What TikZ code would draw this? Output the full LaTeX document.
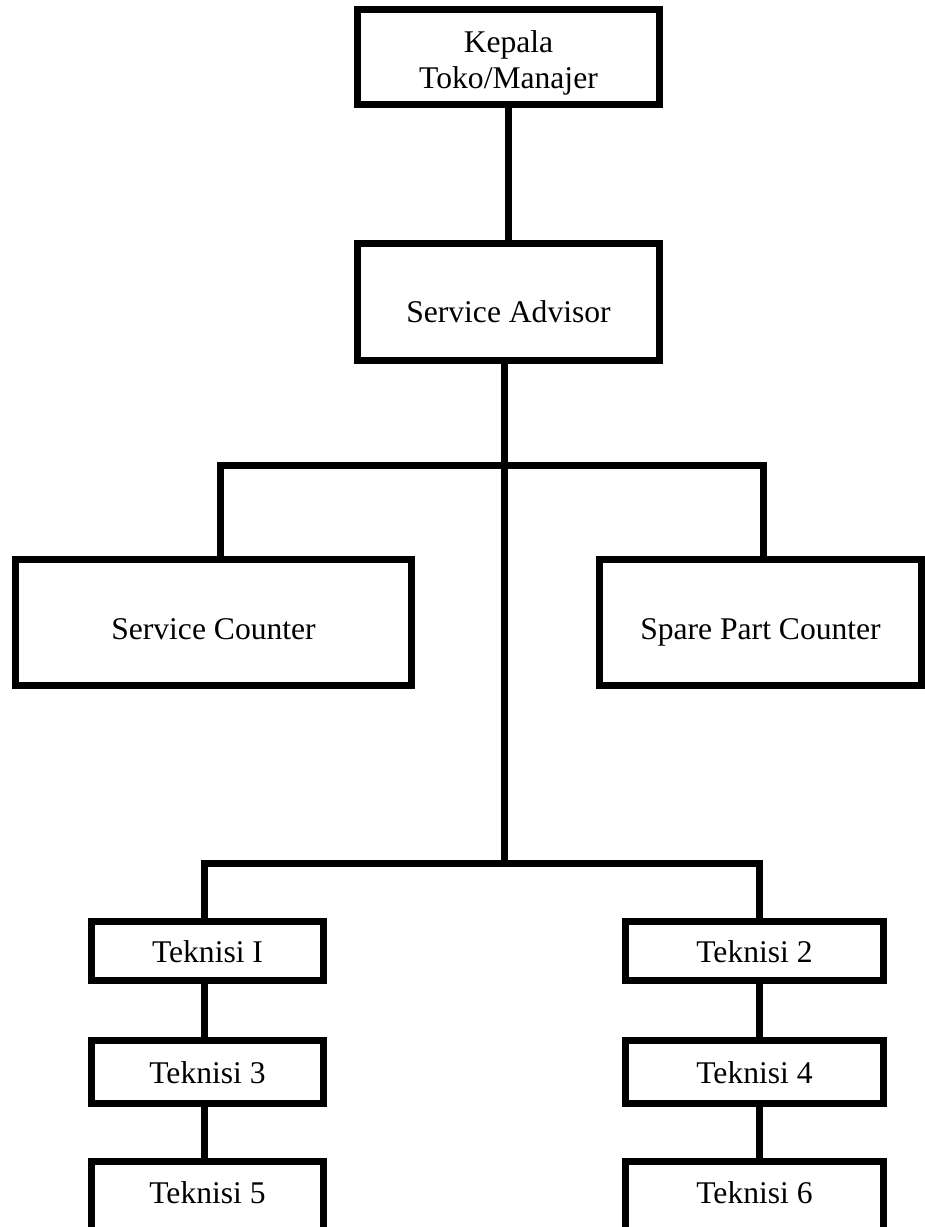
\documentclass[tikz,border=0pt]{standalone}
\usepackage{fontspec}
\setmainfont{Liberation Serif}
\begin{document}
\begin{tikzpicture}[x=1pt, y=-1pt,
  line width=7pt,
  orgbox/.style={draw, rectangle, inner sep=0pt, line width=7pt,
    font=\fontsize{31.6}{36}\selectfont, text depth=0pt},
  lbl/.style={inner sep=0pt, font=\fontsize{31.6}{36}\selectfont},
  wire/.style={draw, line width=7pt}]
\useasboundingbox (0,0) rectangle (925,1227);
\clip (0,0) rectangle (925,1227);

% boxes
\node[orgbox, minimum width=302pt, minimum height=95pt] (head) at (508.5,57) {};
\node[lbl, align=center] (headlbl) at ([yshift=-5.6pt]head.center) {Kepala\\Toko/Manajer};
\node[orgbox, minimum width=302pt, minimum height=117pt, text height=40pt] (sa) at (508.5,302) {Service Advisor};
\node[orgbox, minimum width=396pt, minimum height=126pt, text height=33pt] (sc) at (213.5,622.5) {Service Counter};
\node[orgbox, minimum width=322pt, minimum height=126pt, text height=33pt] (sp) at (760.5,622.5) {Spare Part Counter};
\node[orgbox, minimum width=232pt, minimum height=59pt, text height=22pt] (t1) at (207.5,951) {Teknisi I};
\node[orgbox, minimum width=258pt, minimum height=59pt, text height=22pt] (t2) at (754.5,951) {Teknisi 2};
\node[orgbox, minimum width=232pt, minimum height=63pt, text height=22pt] (t3) at (207.5,1072) {Teknisi 3};
\node[orgbox, minimum width=258pt, minimum height=63pt, text height=22pt] (t4) at (754.5,1072) {Teknisi 4};
\node[orgbox, minimum width=232pt, minimum height=75pt, text height=8pt] (t5) at (207.5,1199) {Teknisi 5};
\node[orgbox, minimum width=258pt, minimum height=75pt, text height=8pt] (t6) at (754.5,1199) {Teknisi 6};

% junction points of the connector lines
\coordinate (jtop) at (504,465.5);
\coordinate (jbot) at (504,863);
\coordinate (lc) at (220.5,465.5);
\coordinate (rc) at (763.5,465.5);
\coordinate (lt) at (204.5,863);
\coordinate (rt) at (759,863);

% connectors
\draw[wire] (head.south) -- (sa.north);
\draw[wire] (sa.south -| jtop) -- (jbot);
\draw[wire] (sc.north -| lc) -- (lc) -- (rc) -- (sp.north -| rc);
\draw[wire] (t1.north -| lt) -- (lt) -- (rt) -- (t2.north -| rt);
\draw[wire] (t1.south -| lt) -- (t3.north -| lt);
\draw[wire] (t3.south -| lt) -- (t5.north -| lt);
\draw[wire] (t2.south -| rt) -- (t4.north -| rt);
\draw[wire] (t4.south -| rt) -- (t6.north -| rt);
\end{tikzpicture}
\end{document}
